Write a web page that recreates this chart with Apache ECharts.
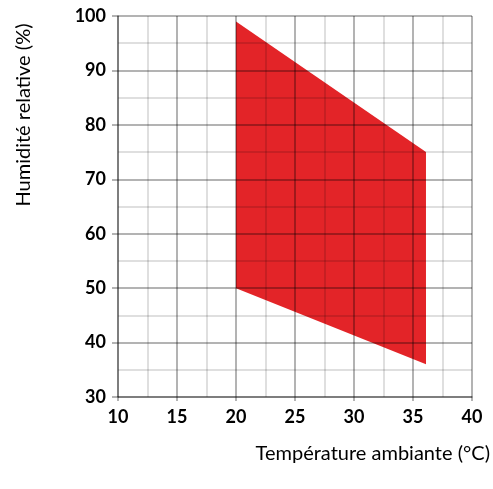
<!DOCTYPE html>
<html><head><meta charset="utf-8">
<script src="https://cdn.jsdelivr.net/npm/echarts@6/dist/echarts.min.js"></script>
<style>html,body{margin:0;padding:0;background:#fff}#c{width:493px;height:489px}</style>
</head><body><div id="c"></div>
<script>
// Operating envelope polygon (temperature °C, relative humidity %)
var polyTemp = [20, 36.1, 36.1, 20];
var polyHum  = [99, 75, 36, 50];
var xTicks = [10, 15, 20, 25, 30, 35, 40];
var yTicks = [30, 40, 50, 60, 70, 80, 90, 100];
var xTitle = 'Température ambiante (°C)';
var yTitle = 'Humidité relative (%)';

var major = 'rgba(0,0,0,0.4)';
var minor = 'rgba(0,0,0,0.17)';
var lblFont = 'Lato';

var chart = echarts.init(document.getElementById('c'));
function axisCommon(ticks) {
  return {
    type: 'value',
    min: ticks[0], max: ticks[ticks.length - 1],
    interval: ticks[1] - ticks[0],
    z: 5,
    axisLine: { show: true, lineStyle: { color: major, width: 1.5 } },
    axisTick: { show: true, length: 5, lineStyle: { color: major, width: 1.5 } },
    splitLine: { show: true, lineStyle: { color: major, width: 1.5 } },
    minorTick: { show: false, splitNumber: 2 },
    minorSplitLine: { show: true, lineStyle: { color: minor, width: 1.5 } },
    axisLabel: { color: '#000', fontWeight: 'bold', fontSize: 18, fontFamily: lblFont }
  };
}
var xa = axisCommon(xTicks); xa.axisLabel.margin = 11; xa.axisTick.length = 4;
var ya = axisCommon(yTicks); ya.axisLabel.margin = 12; ya.axisTick.length = 6;
chart.setOption({
  animation: false,
  grid: { left: 118, right: 21, top: 16, bottom: 92 },
  xAxis: xa,
  yAxis: ya,
  graphic: [
    { type: 'text', right: 3, top: 444, style: { text: xTitle, font: '20px Lato', fill: '#000' } },
    { type: 'text', x: 24, y: 115, rotation: Math.PI / 2, style: { text: yTitle, font: '20px Lato', fill: '#000', align: 'center', verticalAlign: 'middle' } }
  ],
  series: [{
    type: 'custom',
    z: 2,
    data: [[polyTemp[0], polyHum[0]]],
    renderItem: function (params, api) {
      var pts = polyTemp.map(function (t, i) { return api.coord([t, polyHum[i]]); });
      return { type: 'polygon', shape: { points: pts }, style: { fill: '#E32428' } };
    }
  }]
});
</script></body></html>
